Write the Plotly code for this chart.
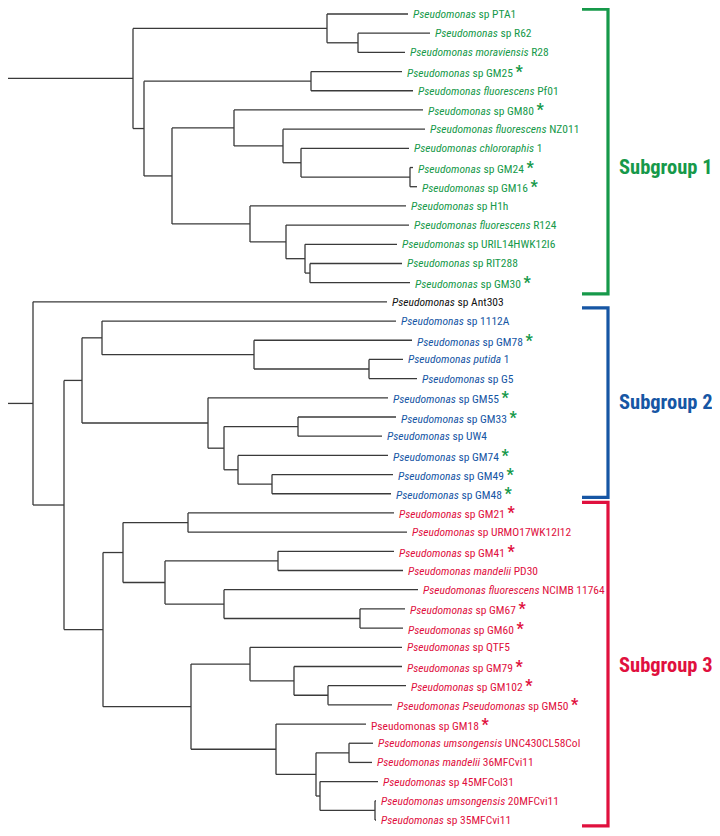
import plotly.graph_objects as go

# ---------------- data ----------------
# leaf labels: italic part, plain part
label_italic = [
    "Pseudomonas", "Pseudomonas", "Pseudomonas moraviensis", "Pseudomonas",
    "Pseudomonas fluorescens", "Pseudomonas", "Pseudomonas fluorescens",
    "Pseudomonas chlororaphis", "Pseudomonas", "Pseudomonas", "Pseudomonas",
    "Pseudomonas fluorescens", "Pseudomonas", "Pseudomonas", "Pseudomonas",
    "Pseudomonas",
    "Pseudomonas", "Pseudomonas", "Pseudomonas putida", "Pseudomonas",
    "Pseudomonas", "Pseudomonas", "Pseudomonas", "Pseudomonas", "Pseudomonas",
    "Pseudomonas",
    "Pseudomonas", "Pseudomonas", "Pseudomonas", "Pseudomonas mandelii",
    "Pseudomonas fluorescens", "Pseudomonas", "Pseudomonas", "Pseudomonas",
    "Pseudomonas", "Pseudomonas", "Pseudomonas Pseudomonas", "",
    "Pseudomonas umsongensis", "Pseudomonas mandelii", "Pseudomonas",
    "Pseudomonas umsongensis", "Pseudomonas",
]
label_plain = [
    "sp PTA1", "sp R62", "R28", "sp GM25", "Pf01", "sp GM80", "NZ011", "1",
    "sp GM24", "sp GM16", "sp H1h", "R124", "sp URIL14HWK12I6", "sp RIT288",
    "sp GM30",
    "sp Ant303",
    "sp 1112A", "sp GM78", "1", "sp G5", "sp GM55", "sp GM33", "sp UW4",
    "sp GM74", "sp GM49", "sp GM48",
    "sp GM21", "sp URMO17WK12I12", "sp GM41", "PD30", "NCIMB 11764",
    "sp GM67", "sp GM60", "sp QTF5", "sp GM79", "sp GM102", "sp GM50",
    "Pseudomonas sp GM18", "UNC430CL58Col", "36MFCvi11", "sp 45MFCol31",
    "20MFCvi11", "sp 35MFCvi11",
]
group = (["Subgroup 1"] * 15 + ["none"] + ["Subgroup 2"] * 10 + ["Subgroup 3"] * 17)
starred = [
    0, 0, 0, 1, 0, 1, 0, 0, 1, 1, 0, 0, 0, 0, 1,
    0,
    0, 1, 0, 0, 1, 1, 0, 1, 1, 1,
    1, 0, 1, 0, 0, 1, 1, 0, 1, 1, 1, 1, 0, 0, 0, 0, 0,
]
# tip depth of each leaf (distance from root)
tip_depth = [
    403, 425, 400, 397, 408, 418, 420, 404, 408, 412, 401, 404, 392, 397, 405,
    382,
    391, 407, 398, 412, 383, 391, 377, 383, 388, 386,
    389, 402, 389, 398, 413, 400, 398, 397, 397, 401, 387, 361, 368, 367,
    373, 371, 371,
]
# tree topology: (node depth, [children]); ints are leaf indices
tree = (0, [
    (128, [
        (322, [0, (353, [1, 2])]),
        (139, [
            (306, [3, 4]),
            (167, [
                (229, [5, (278, [6, (296, [7, (405, [8, 9])])])]),
                (245, [10, (281, [11, (300, [12, (305, [13, 14])])])]),
            ]),
        ]),
    ]),
    (28, [
        15,
        (59, [
            (77, [
                (97, [16, (249, [17, (364, [18, 19])])]),
                (203, [20, (219, [(293, [21, 22]), (233, [23, (267, [24, 25])])])]),
            ]),
            (98, [
                (118, [
                    (183, [26, 27]),
                    (160, [(273, [28, 29]), (219, [30, (355, [31, 32])])]),
                ]),
                (186, [
                    (245, [33, (289, [34, (323, [35, 36])])]),
                    (271, [37, (311, [(344, [38, 39]), (315, [40, (370, [41, 42])])])]),
                ]),
            ]),
        ]),
    ]),
])
root_edge = 5

subgroups = ["Subgroup 1", "Subgroup 2", "Subgroup 3"]

# ---------------- styles ----------------
colors = {"Subgroup 1": "#16994a", "Subgroup 2": "#1656a4",
          "Subgroup 3": "#e0103e", "none": "#111111"}
star_colors = {"Subgroup 1": "#16994a", "Subgroup 2": "#16994a",
               "Subgroup 3": "#e0103e", "none": "#111111"}
bracket_pad = {"Subgroup 1": (0.25, 0.58), "Subgroup 2": (0.69, 0.19),
               "Subgroup 3": (0.55, 0.31)}
label_pos = {"Subgroup 1": 7.97, "Subgroup 2": 20.2, "Subgroup 3": 33.9}
FONT = "Roboto Condensed, Liberation Sans Narrow, Arial Narrow, Liberation Sans"

# the page puts the figure 8px in from the top-left; the figure is sized to
# fit inside the window without scrollbars and the ranges compensate
OFF = 8
W, H = 720 - 2 * OFF, 836 - 2 * OFF
TOP = 14
ROW = (820 - TOP) / 42

# ---------------- build segments ----------------
xs, ys = [], []


def draw(node):
    if isinstance(node, int):
        return float(node)
    depth, children = node
    cy = []
    for ch in children:
        y = draw(ch)
        cx = tip_depth[ch] if isinstance(ch, int) else ch[0]
        xs.extend([depth, cx, None])
        ys.extend([y, y, None])
        cy.append(y)
    xs.extend([depth, depth, None])
    ys.extend([min(cy), max(cy), None])
    return (min(cy) + max(cy)) / 2


root_y = draw(tree)
xs.extend([-root_edge, 0, None])
ys.extend([root_y, root_y, None])

fig = go.Figure()
fig.add_trace(go.Scatter(x=xs, y=ys, mode="lines",
                         line=dict(color="#3a3a3a", width=1.3),
                         hoverinfo="skip", showlegend=False))

for i in range(len(label_plain)):
    g = group[i]
    txt = ""
    if label_italic[i]:
        txt += "<i>" + label_italic[i] + "</i> "
    txt += label_plain[i]
    if starred[i]:
        txt += (" <span style='font-size:16px;color:%s'><b>*</b></span>"
                % star_colors[g])
    fig.add_annotation(x=tip_depth[i], y=i, text=txt, showarrow=False,
                       xanchor="left", yanchor="middle", xshift=3, yshift=0,
                       font=dict(family=FONT, size=11.5, color=colors[g]))

for g in subgroups:
    idx = [i for i in range(len(group)) if group[i] == g]
    top = idx[0] - bracket_pad[g][0]
    bot = idx[-1] + bracket_pad[g][1]
    fig.add_shape(type="path",
                  path="M 577 %f L 603 %f L 603 %f L 577 %f" % (top, top, bot, bot),
                  line=dict(color=colors[g], width=3.2))
    fig.add_annotation(x=612, y=label_pos[g], text="<b>%s</b>" % g,
                       showarrow=False, xanchor="left", yanchor="middle",
                       font=dict(family=FONT, size=20.5, color=colors[g]))

fig.update_layout(
    width=W, height=H,
    margin=dict(l=0, r=0, t=0, b=0),
    paper_bgcolor="white", plot_bgcolor="white",
    xaxis=dict(range=[OFF - 5, OFF - 5 + W], visible=False, fixedrange=True),
    yaxis=dict(range=[(OFF + H - TOP) / ROW, (OFF - TOP) / ROW], visible=False,
               fixedrange=True),
    showlegend=False,
)
fig.write_html("out.html")
